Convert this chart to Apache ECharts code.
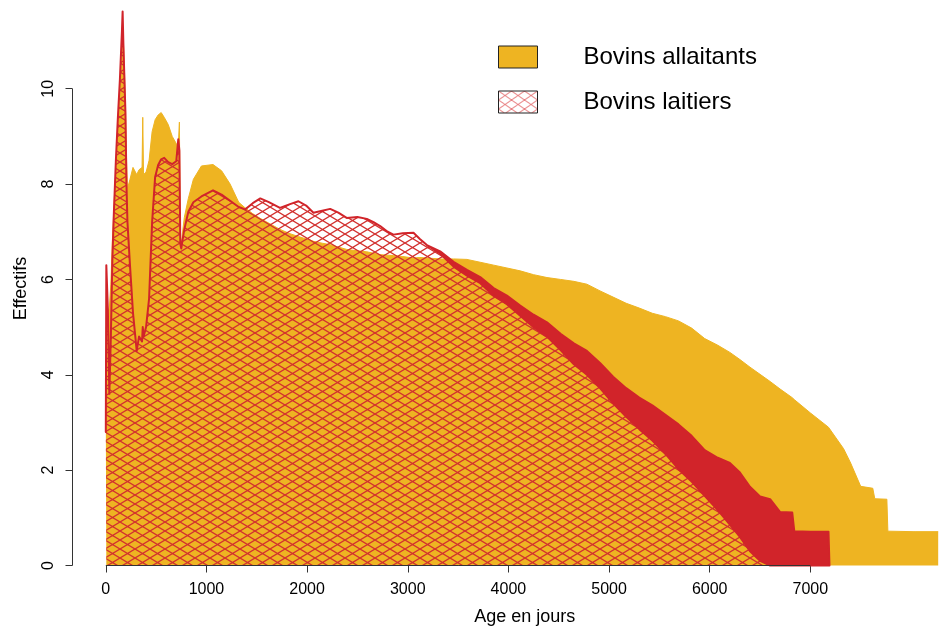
<!DOCTYPE html>
<html>
<head>
<meta charset="utf-8">
<script src="https://cdn.jsdelivr.net/npm/echarts@6/dist/echarts.min.js"></script>
<style>
  html, body { margin: 0; padding: 0; background: #ffffff; }
  #chart { width: 939px; height: 626px; }
</style>
</head>
<body>
<div id="chart"></div>
<script>
// Age (days) at which each count is sampled
const ages = [
  0, 5, 20, 35, 50, 65, 80, 100, 120, 140,
  160, 167, 175, 185, 195, 205, 215, 240, 270, 307,
  330, 360, 367, 375, 400, 430, 460, 490, 520, 550,
  580, 620, 660, 700, 720, 731, 740, 750, 760, 780,
  820, 870, 950, 1065, 1150, 1235, 1320, 1385, 1460, 1535,
  1620, 1730, 1830, 1914, 1990, 2063, 2150, 2229, 2310, 2393,
  2500, 2593, 2660, 2726, 2800, 2858, 2950, 3057, 3120, 3190,
  3322, 3455, 3588, 3720, 3853, 3985, 4117, 4250, 4383, 4518,
  4650, 4780, 4910, 5040, 5170, 5300, 5430, 5560, 5690, 5820,
  5950, 6080, 6200, 6300, 6400, 6500, 6600, 6700, 6820, 6840,
  7000, 7180, 7190, 7330, 7400, 7500, 7620, 7640, 7760, 7770,
  8020, 8040, 8270
];

// Beef herd ("allaitants")
const allaitants = [
  3.0, 5.0, 5.3, 5.4, 5.9, 6.8, 7.5, 8.3, 9.3, 10.1,
  10.7, 10.95, 11.0, 10.4, 9.6, 8.6, 7.9, 8.1, 8.35, 8.2,
  8.3, 8.35, 9.4, 8.2, 8.25, 8.5, 9.1, 9.35, 9.45, 9.5,
  9.4, 9.25, 9.0, 8.85, 8.8, 9.3, 6.85, 6.7, 6.95, 7.3,
  7.7, 8.1, 8.38, 8.41, 8.28, 8.0, 7.62, 7.5, 7.38, 7.28,
  7.18, 7.05, 6.96, 6.9, 6.85, 6.8, 6.76, 6.73, 6.68, 6.63,
  6.6, 6.58, 6.55, 6.52, 6.51, 6.5, 6.48, 6.45, 6.46, 6.45,
  6.43, 6.43, 6.42, 6.36, 6.3, 6.24, 6.18, 6.1, 6.04, 6.0,
  5.96, 5.9, 5.76, 5.63, 5.5, 5.4, 5.29, 5.22, 5.13, 4.98,
  4.76, 4.62, 4.47, 4.32, 4.16, 4.01, 3.86, 3.7, 3.52, 3.48,
  3.2, 2.9, 2.88, 2.45, 2.15, 1.66, 1.62, 1.4, 1.39, 0.72,
  0.71, 0.71, 0.71
];

// Dairy herd ("laitiers"): upper edge of the noisy daily curve
const laitiersHaut = [
  2.8, 6.3, 5.4, 3.6, 4.8, 6.4, 7.4, 8.5, 9.4, 10.2,
  11.2, 11.62, 10.9, 10.2, 9.5, 8.0, 7.2, 6.3, 5.3, 4.5,
  4.8, 4.7, 5.0, 4.8, 5.0, 5.6, 7.2, 8.15, 8.4, 8.52,
  8.55, 8.46, 8.42, 8.48, 8.94, 8.7, 6.75, 6.65, 6.8, 7.05,
  7.42, 7.62, 7.74, 7.87, 7.78, 7.65, 7.52, 7.47, 7.6, 7.7,
  7.62, 7.5, 7.58, 7.64, 7.55, 7.4, 7.44, 7.48, 7.4, 7.29,
  7.31, 7.27, 7.2, 7.12, 7.0, 6.94, 6.97, 6.98, 6.85, 6.72,
  6.59, 6.37, 6.2, 6.05, 5.82, 5.66, 5.45, 5.26, 5.1, 4.86,
  4.66, 4.5, 4.25, 3.96, 3.72, 3.52, 3.36, 3.16, 2.96, 2.72,
  2.42, 2.26, 2.15, 1.95, 1.65, 1.45, 1.39, 1.12, 1.11, 0.72,
  0.71, 0.71, 0, null, null, null, null, null, null, null,
  null, null, null
];

// Dairy herd: lower edge of the same curve (top of the hatched fill)
const laitiersBas = [
  2.8, 6.3, 5.4, 3.6, 4.8, 6.4, 7.4, 8.5, 9.4, 10.2,
  11.2, 11.62, 10.9, 10.2, 9.5, 8.0, 7.2, 6.3, 5.3, 4.5,
  4.8, 4.7, 5.0, 4.8, 5.0, 5.6, 7.2, 8.15, 8.4, 8.52,
  8.55, 8.46, 8.42, 8.48, 8.94, 8.7, 6.75, 6.65, 6.8, 7.05,
  7.42, 7.62, 7.74, 7.87, 7.78, 7.65, 7.52, 7.47, 7.6, 7.7,
  7.62, 7.5, 7.58, 7.64, 7.55, 7.4, 7.44, 7.48, 7.4, 7.29,
  7.31, 7.27, 7.2, 7.12, 7.0, 6.94, 6.97, 6.98, 6.85, 6.72,
  6.54, 6.27, 6.08, 5.92, 5.66, 5.48, 5.24, 5.0, 4.8, 4.52,
  4.22, 4.0, 3.72, 3.4, 3.12, 2.86, 2.62, 2.34, 2.02, 1.76,
  1.46, 1.16, 0.86, 0.6, 0.3, 0.1, 0, 0, 0, 0,
  0, 0, 0, null, null, null, null, null, null, null,
  null, null, null
];

const xTicks = [0, 1000, 2000, 3000, 4000, 5000, 6000, 7000];
const yTicks = [0, 2, 4, 6, 8, 10];

const X_MIN = -331, X_MAX = 8278;
const Y_MIN = 0, Y_MAX = 11.62;
const OR = '#EEB422';
const ROUGE = '#D1242A';
const AXE = '#333333';
const POLICE = 'Liberation Sans, Arial, Helvetica, sans-serif';

// Diamond cross-hatching tile
function hachures(w, h, color, lw) {
  const c = document.createElement('canvas');
  c.width = w; c.height = h;
  const g = c.getContext('2d');
  g.strokeStyle = color;
  g.lineWidth = lw;
  g.beginPath();
  g.moveTo(-w, -h); g.lineTo(2 * w, 2 * h);
  g.moveTo(-w, 2 * h); g.lineTo(2 * w, -h);
  g.stroke();
  return c;
}
const motif = { image: hachures(15, 9, '#D2302F', 1.3), repeat: 'repeat' };
const motifLegende = { image: hachures(13, 9, '#E0575A', 0.9), repeat: 'repeat' };

const pts = arr => ages.map((a, i) => [a, arr[i]]);

const chart = echarts.init(document.getElementById('chart'), null, { renderer: 'canvas' });

chart.setOption({
  animation: false,
  backgroundColor: '#ffffff',
  textStyle: { fontFamily: POLICE, color: '#000' },
  grid: { left: 72.5, right: 0, top: 11.5, bottom: 60.5, containLabel: false, outerBoundsMode: 'none' },
  legend: {
    left: 498, top: 45, orient: 'vertical',
    itemWidth: 39, itemHeight: 22, itemGap: 21, padding: 0,
    selectedMode: false,
    textStyle: { fontSize: 24, color: '#000', fontFamily: POLICE, padding: [0, 0, 0, 41] },
    data: [
      { name: 'Bovins allaitants', icon: 'rect',
        itemStyle: { color: OR, borderColor: '#222', borderWidth: 1 } },
      { name: 'Bovins laitiers', icon: 'rect',
        itemStyle: { color: motifLegende, borderColor: '#222', borderWidth: 1 } }
    ]
  },
  xAxis: {
    type: 'value', min: X_MIN, max: X_MAX,
    name: 'Age en jours', nameLocation: 'middle', nameGap: 43,
    nameTextStyle: { fontSize: 18, color: '#000', fontFamily: POLICE, padding: [0, 0, 0, 38] },
    axisLine: { show: false, onZero: false },
    splitLine: { show: false },
    axisTick: { show: true, length: 7, customValues: xTicks, lineStyle: { color: AXE } },
    axisLabel: { customValues: xTicks, fontSize: 16, color: '#000', margin: 16,
                 fontFamily: POLICE, formatter: v => String(v) }
  },
  yAxis: {
    type: 'value', min: Y_MIN, max: Y_MAX,
    name: 'Effectifs', nameLocation: 'middle', nameRotate: 90, nameGap: 42,
    nameTextStyle: { fontSize: 18, color: '#000', fontFamily: POLICE },
    axisLine: { show: false, onZero: false },
    splitLine: { show: false },
    axisTick: { show: true, length: 7, customValues: yTicks, lineStyle: { color: AXE } },
    axisLabel: { customValues: yTicks, rotate: 90, fontSize: 16, color: '#000', margin: 16,
                 fontFamily: POLICE, formatter: v => String(v) }
  },
  series: [
    {
      name: 'Bovins allaitants', type: 'line', data: pts(allaitants),
      symbol: 'none', clip: false, z: 1,
      lineStyle: { color: OR, width: 1 },
      itemStyle: { color: OR },
      areaStyle: { color: OR, opacity: 1 }
    },
    {
      name: 'Bovins laitiers', type: 'line', data: pts(laitiersBas),
      symbol: 'none', z: 2, connectNulls: false,
      lineStyle: { width: 0, color: ROUGE },
      itemStyle: { color: ROUGE },
      areaStyle: { color: motif, opacity: 1 }
    },
    {
      // noisy band of the dairy curve, between its lower and upper edges
      name: 'laitiers (bande)', type: 'custom', z: 3, clip: false,
      data: [[0, 0]],
      renderItem: function (params, api) {
        const haut = [], bas = [];
        ages.forEach((a, i) => {
          if (laitiersHaut[i] == null) return;
          haut.push(api.coord([a, laitiersHaut[i]]));
          bas.push(api.coord([a, laitiersBas[i]]));
        });
        return {
          type: 'polygon',
          shape: { points: haut.concat(bas.reverse()) },
          style: { fill: ROUGE, stroke: ROUGE, lineWidth: 2, lineJoin: 'round' }
        };
      },
      // axis lines: x from 0 to 7000, y from 0 to 10
      markLine: {
        silent: true, symbol: ['none', 'none'], animation: false, z: 10,
        label: { show: false },
        lineStyle: { color: AXE, width: 1, type: 'solid' },
        emphasis: { disabled: true },
        data: [
          [{ coord: [xTicks[0], Y_MIN] }, { coord: [xTicks[xTicks.length - 1], Y_MIN] }],
          [{ coord: [X_MIN, yTicks[0]] }, { coord: [X_MIN, yTicks[yTicks.length - 1]] }]
        ]
      }
    }
  ]
});
</script>
</body>
</html>
